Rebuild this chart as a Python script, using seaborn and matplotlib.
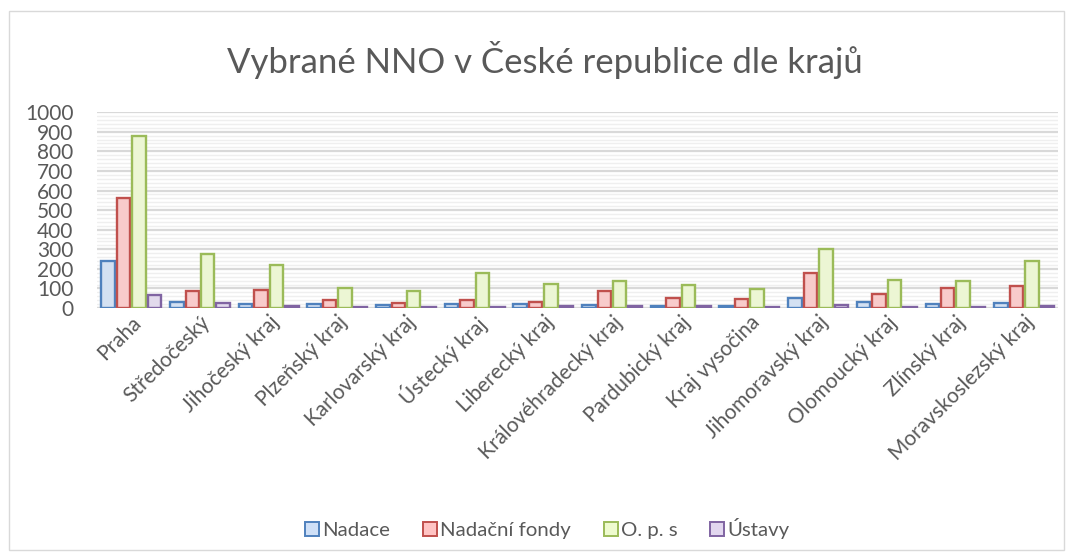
import numpy as np
import pandas as pd
import matplotlib
matplotlib.use("Agg")
import matplotlib.pyplot as plt
import seaborn as sns
from matplotlib.patches import Rectangle

regions = ["Praha", "Středočeský", "Jihočeský kraj", "Plzeňský kraj", "Karlovarský kraj",
           "Ústecký kraj", "Liberecký kraj", "Královéhradecký kraj", "Pardubický kraj",
           "Kraj vysočina", "Jihomoravský kraj", "Olomoucký kraj", "Zlínský kraj",
           "Moravskoslezský kraj"]
series = ["Nadace", "Nadační fondy", "O. p. s", "Ústavy"]
nadace = [239, 32, 22, 19, 14, 20, 20, 15, 10, 10, 51, 29, 19, 27]
nadacni_fondy = [562, 85, 94, 43, 26, 43, 31, 87, 51, 44, 179, 72, 101, 111]
ops = [877, 275, 219, 103, 85, 178, 125, 138, 116, 96, 301, 144, 140, 239]
ustavy = [65, 26, 10, 5, 5, 5, 10, 10, 10, 5, 15, 5, 5, 12]
y_ticks = list(range(0, 1001, 100))

edge_colors = ["#4f81bd", "#c0504d", "#9bbb59", "#8064a2"]
fill_colors = ["#cfe0f7", "#ffc4c4", "#eefbcf", "#e2d7ef"]
text_col = "#595959"

df = pd.DataFrame({
    "kraj": regions * 4,
    "typ": sum([[s] * len(regions) for s in series], []),
    "pocet": nadace + nadacni_fondy + ops + ustavy,
})

sns.set_style("white")
plt.rcParams["font.family"] = ["Lato", "DejaVu Sans"]

fig = plt.figure(figsize=(10.73, 5.58), dpi=100)
ax = fig.add_axes([0.0904, 0.448, 0.896, 0.351])

sns.barplot(data=df, x="kraj", y="pocet", hue="typ", order=regions, hue_order=series,
            palette=fill_colors, width=0.9, gap=0.13, ax=ax, legend=False, zorder=3)

# edge colours per series
n = len(regions)
for i, bar in enumerate(ax.patches[:4 * n]):
    bar.set_edgecolor(edge_colors[i // n])
    bar.set_linewidth(1.7)

ax.set_ylim(0, 1000)
ax.set_xlim(-0.5, n - 0.5)
ax.set_yticks(y_ticks)
ax.set_yticks(np.arange(0, 1001, 20), minor=True)
ax.grid(axis="y", which="major", color="#d9d9d9", lw=1.6, zorder=0)
ax.grid(axis="y", which="minor", color="#efefef", lw=1.0, zorder=0)
ax.tick_params(axis="y", which="both", length=0, labelsize=15, labelcolor=text_col, pad=17)
ax.tick_params(axis="x", length=0, labelsize=15, labelcolor=text_col, pad=3)
plt.setp(ax.get_xticklabels(), rotation=45, ha="right", rotation_mode="anchor")
ax.set_xlabel("")
ax.set_ylabel("")
for s in ax.spines.values():
    s.set_visible(False)
ax.axhline(0, color="#d9d9d9", lw=1.6, zorder=2)

fig.text(0.508, 0.893, "Vybrané NNO v České republice dle krajů", ha="center", va="center",
         fontsize=25, color=text_col)

handles = [Rectangle((0, 0), 1, 1, facecolor=f, edgecolor=e, lw=1.4)
           for f, e in zip(fill_colors, edge_colors)]
fig.legend(handles, series, loc="center", bbox_to_anchor=(0.51, 0.053), ncol=4,
           frameon=False, fontsize=14.7, labelcolor=text_col, handlelength=0.7,
           handleheight=0.7, handletextpad=0.15, columnspacing=1.6)

fig.patches.append(Rectangle((0.008, 0.015), 0.984, 0.965, transform=fig.transFigure,
                             fill=False, edgecolor="#d9d9d9", lw=1))

fig.savefig("out.png", dpi=100)
